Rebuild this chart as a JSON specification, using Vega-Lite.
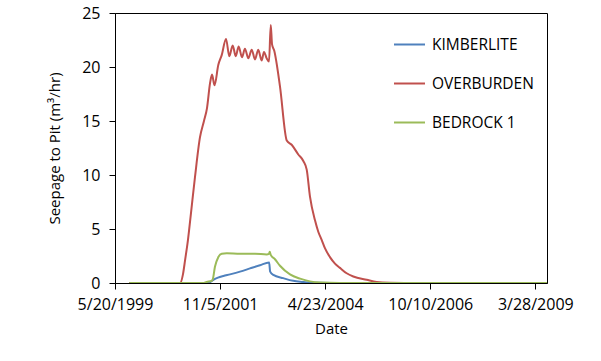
{
  "$schema": "https://vega.github.io/schema/vega-lite/v6.json",
  "autosize": {"type": "none"},
  "width": 432,
  "height": 270,
  "padding": {"left": 115, "top": 13, "right": 54, "bottom": 78},
  "background": "white",
  "config": {
    "view": {"stroke": "#000000", "strokeWidth": 1},
    "font": "Open Sans",
    "axis": {
      "grid": false,
      "domainColor": "#000000",
      "tickColor": "#000000",
      "labelColor": "#000000",
      "titleColor": "#000000",
      "labelFont": "Open Sans",
      "titleFont": "Open Sans",
      "labelFontSize": 16,
      "titleFontSize": 15,
      "titleFontWeight": "normal"
    },
    "legend": {
      "labelFont": "Open Sans",
      "labelFontSize": 15.5,
      "labelColor": "#000000"
    }
  },
  "datasets": {
    "series": [
      {"series": "KIMBERLITE", "date": "1999-09-19", "value": 0},
      {"series": "KIMBERLITE", "date": "2001-07-27", "value": 0},
      {"series": "KIMBERLITE", "date": "2001-09-08", "value": 0.3},
      {"series": "KIMBERLITE", "date": "2001-10-18", "value": 0.5},
      {"series": "KIMBERLITE", "date": "2001-12-03", "value": 0.65},
      {"series": "KIMBERLITE", "date": "2002-01-29", "value": 0.8},
      {"series": "KIMBERLITE", "date": "2002-04-25", "value": 1.05},
      {"series": "KIMBERLITE", "date": "2002-07-19", "value": 1.35},
      {"series": "KIMBERLITE", "date": "2002-10-13", "value": 1.65},
      {"series": "KIMBERLITE", "date": "2002-12-30", "value": 1.9},
      {"series": "KIMBERLITE", "date": "2003-01-08", "value": 1.05},
      {"series": "KIMBERLITE", "date": "2003-02-04", "value": 0.75},
      {"series": "KIMBERLITE", "date": "2003-04-30", "value": 0.45},
      {"series": "KIMBERLITE", "date": "2003-07-25", "value": 0.2},
      {"series": "KIMBERLITE", "date": "2003-10-19", "value": 0.1},
      {"series": "KIMBERLITE", "date": "2003-12-15", "value": 0.04},
      {"series": "KIMBERLITE", "date": "2004-06-03", "value": 0.01},
      {"series": "KIMBERLITE", "date": "2009-07-06", "value": 0},

      {"series": "OVERBURDEN", "date": "1999-09-19", "value": 0},
      {"series": "OVERBURDEN", "date": "2000-11-27", "value": 0},
      {"series": "OVERBURDEN", "date": "2000-12-22", "value": 0.8},
      {"series": "OVERBURDEN", "date": "2001-01-09", "value": 2.1},
      {"series": "OVERBURDEN", "date": "2001-02-03", "value": 4.0},
      {"series": "OVERBURDEN", "date": "2001-03-01", "value": 6.5},
      {"series": "OVERBURDEN", "date": "2001-04-04", "value": 9.8},
      {"series": "OVERBURDEN", "date": "2001-05-17", "value": 13.5},
      {"series": "OVERBURDEN", "date": "2001-06-20", "value": 15.0},
      {"series": "OVERBURDEN", "date": "2001-07-16", "value": 16.2},
      {"series": "OVERBURDEN", "date": "2001-08-11", "value": 18.5},
      {"series": "OVERBURDEN", "date": "2001-08-28", "value": 19.3},
      {"series": "OVERBURDEN", "date": "2001-09-18", "value": 18.3},
      {"series": "OVERBURDEN", "date": "2001-10-21", "value": 20.2},
      {"series": "OVERBURDEN", "date": "2001-11-19", "value": 21.1},
      {"series": "OVERBURDEN", "date": "2001-12-26", "value": 22.6},
      {"series": "OVERBURDEN", "date": "2002-01-23", "value": 21.0},
      {"series": "OVERBURDEN", "date": "2002-02-21", "value": 22.0},
      {"series": "OVERBURDEN", "date": "2002-03-19", "value": 21.0},
      {"series": "OVERBURDEN", "date": "2002-04-13", "value": 21.9},
      {"series": "OVERBURDEN", "date": "2002-05-12", "value": 20.9},
      {"series": "OVERBURDEN", "date": "2002-06-06", "value": 21.7},
      {"series": "OVERBURDEN", "date": "2002-07-05", "value": 20.8},
      {"series": "OVERBURDEN", "date": "2002-08-03", "value": 21.6},
      {"series": "OVERBURDEN", "date": "2002-08-31", "value": 20.7},
      {"series": "OVERBURDEN", "date": "2002-09-28", "value": 21.6},
      {"series": "OVERBURDEN", "date": "2002-10-27", "value": 20.6},
      {"series": "OVERBURDEN", "date": "2002-11-16", "value": 21.4},
      {"series": "OVERBURDEN", "date": "2002-12-09", "value": 20.8},
      {"series": "OVERBURDEN", "date": "2002-12-29", "value": 20.5},
      {"series": "OVERBURDEN", "date": "2003-01-13", "value": 23.9},
      {"series": "OVERBURDEN", "date": "2003-01-24", "value": 22.1},
      {"series": "OVERBURDEN", "date": "2003-02-12", "value": 21.5},
      {"series": "OVERBURDEN", "date": "2003-04-02", "value": 18.2},
      {"series": "OVERBURDEN", "date": "2003-05-30", "value": 13.2},
      {"series": "OVERBURDEN", "date": "2003-07-11", "value": 12.8},
      {"series": "OVERBURDEN", "date": "2003-09-06", "value": 11.9},
      {"series": "OVERBURDEN", "date": "2003-10-19", "value": 11.3},
      {"series": "OVERBURDEN", "date": "2003-11-17", "value": 10.5},
      {"series": "OVERBURDEN", "date": "2003-12-15", "value": 8.0},
      {"series": "OVERBURDEN", "date": "2004-01-27", "value": 5.8},
      {"series": "OVERBURDEN", "date": "2004-02-24", "value": 4.75},
      {"series": "OVERBURDEN", "date": "2004-03-24", "value": 4.0},
      {"series": "OVERBURDEN", "date": "2004-04-22", "value": 3.2},
      {"series": "OVERBURDEN", "date": "2004-06-03", "value": 2.4},
      {"series": "OVERBURDEN", "date": "2004-07-16", "value": 1.8},
      {"series": "OVERBURDEN", "date": "2004-08-28", "value": 1.4},
      {"series": "OVERBURDEN", "date": "2004-10-24", "value": 0.9},
      {"series": "OVERBURDEN", "date": "2004-12-20", "value": 0.6},
      {"series": "OVERBURDEN", "date": "2005-04-14", "value": 0.3},
      {"series": "OVERBURDEN", "date": "2005-07-08", "value": 0.1},
      {"series": "OVERBURDEN", "date": "2005-10-30", "value": 0.03},
      {"series": "OVERBURDEN", "date": "2006-07-01", "value": 0},
      {"series": "OVERBURDEN", "date": "2009-07-06", "value": 0},

      {"series": "BEDROCK 1", "date": "1999-09-19", "value": 0},
      {"series": "BEDROCK 1", "date": "2001-06-12", "value": 0},
      {"series": "BEDROCK 1", "date": "2001-07-13", "value": 0.1},
      {"series": "BEDROCK 1", "date": "2001-08-25", "value": 0.2},
      {"series": "BEDROCK 1", "date": "2001-09-05", "value": 0.4},
      {"series": "BEDROCK 1", "date": "2001-09-22", "value": 1.5},
      {"series": "BEDROCK 1", "date": "2001-10-21", "value": 2.4},
      {"series": "BEDROCK 1", "date": "2001-11-19", "value": 2.7},
      {"series": "BEDROCK 1", "date": "2002-01-01", "value": 2.75},
      {"series": "BEDROCK 1", "date": "2002-04-25", "value": 2.7},
      {"series": "BEDROCK 1", "date": "2002-08-31", "value": 2.7},
      {"series": "BEDROCK 1", "date": "2002-12-09", "value": 2.65},
      {"series": "BEDROCK 1", "date": "2002-12-29", "value": 2.7},
      {"series": "BEDROCK 1", "date": "2003-01-04", "value": 2.9},
      {"series": "BEDROCK 1", "date": "2003-01-13", "value": 2.6},
      {"series": "BEDROCK 1", "date": "2003-02-18", "value": 2.2},
      {"series": "BEDROCK 1", "date": "2003-04-02", "value": 1.6},
      {"series": "BEDROCK 1", "date": "2003-06-27", "value": 0.8},
      {"series": "BEDROCK 1", "date": "2003-09-21", "value": 0.4},
      {"series": "BEDROCK 1", "date": "2003-12-15", "value": 0.15},
      {"series": "BEDROCK 1", "date": "2004-03-10", "value": 0.05},
      {"series": "BEDROCK 1", "date": "2004-08-28", "value": 0.01},
      {"series": "BEDROCK 1", "date": "2009-07-06", "value": 0}
    ]
  },
  "data": {"name": "series"},
  "mark": {"type": "line", "strokeWidth": 2, "interpolate": "monotone", "clip": true},
  "encoding": {
    "x": {
      "field": "date",
      "type": "temporal",
      "scale": {
        "type": "utc",
        "domain": [
          {"year": 1999, "month": 5, "date": 20, "utc": true},
          {"year": 2009, "month": 7, "date": 6, "utc": true}
        ],
        "nice": false
      },
      "axis": {
        "title": "Date",
        "values": [
          {"year": 1999, "month": 5, "date": 20, "utc": true},
          {"year": 2001, "month": 11, "date": 5, "utc": true},
          {"year": 2004, "month": 4, "date": 23, "utc": true},
          {"year": 2006, "month": 10, "date": 10, "utc": true},
          {"year": 2009, "month": 3, "date": 28, "utc": true}
        ],
        "labelExpr": "utcFormat(datum.value, '%-m/%-d/%Y')",
        "tickSize": 6,
        "labelPadding": 7,
        "titlePadding": 9,
        "labelFlush": false,
        "labelOverlap": false
      }
    },
    "y": {
      "field": "value",
      "type": "quantitative",
      "scale": {"domain": [0, 25], "nice": false},
      "axis": {
        "title": "Seepage to Pit (m³/hr)",
        "values": [0, 5, 10, 15, 20, 25],
        "tickSize": 6,
        "labelPadding": 9,
        "titlePadding": 19
      }
    },
    "color": {
      "field": "series",
      "type": "nominal",
      "sort": ["KIMBERLITE", "OVERBURDEN", "BEDROCK 1"],
      "scale": {
        "domain": ["KIMBERLITE", "OVERBURDEN", "BEDROCK 1"],
        "range": ["#4F81BD", "#C0504D", "#9BBB59"]
      },
      "legend": {
        "title": null,
        "orient": "none",
        "legendX": 278,
        "legendY": 15,
        "symbolType": "stroke",
        "symbolSize": 961,
        "symbolStrokeWidth": 2,
        "labelOffset": 6,
        "rowPadding": 14
      }
    },
    "order": {"field": "series"}
  }
}
